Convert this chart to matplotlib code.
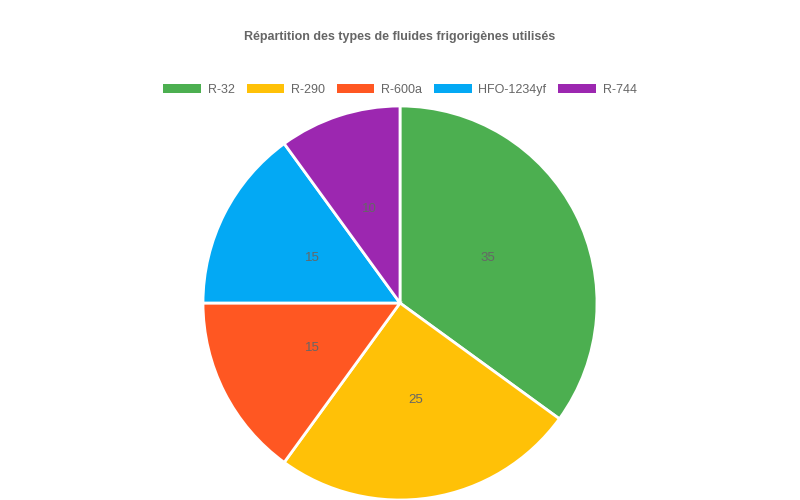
import matplotlib
matplotlib.use("Agg")
import matplotlib.pyplot as plt
from matplotlib.patches import Patch

plt.rcParams['font.family'] = ['Liberation Sans', 'DejaVu Sans']

# data
labels = ['R-32', 'R-290', 'R-600a', 'HFO-1234yf', 'R-744']
values = [35, 25, 15, 15, 10]
colors = ['#4CAF50', '#FFC107', '#FF5722', '#03A9F4', '#9C27B0']
title = 'Répartition des types de fluides frigorigènes utilisés'

fig = plt.figure(figsize=(8, 5), dpi=100)

# pie centre ~ (400, 303) px, radius ~197 px
cx, cy, r = 400, 303, 197
ax = fig.add_axes([(cx - r) / 800, (500 - cy - r) / 500, 2 * r / 800, 2 * r / 500])
wedges, texts = ax.pie(values, colors=colors, startangle=90, counterclock=False,
                       labels=[str(v) for v in values], labeldistance=0.5,
                       wedgeprops=dict(edgecolor='white', linewidth=2),
                       textprops=dict(color='#666666', fontsize=9.5))
for t in texts:
    t.set_horizontalalignment('center')
    t.set_verticalalignment('center')
ax.set_xlim(-1.0, 1.0)
ax.set_ylim(-1.0, 1.0)
ax.set_aspect('equal')
ax.axis('off')

fig.text(0.5, 1 - 37 / 500, title, ha='center', va='center',
         fontsize=9, fontweight='bold', color='#666666')

handles = [Patch(facecolor=c, edgecolor='none') for c in colors]
fig.legend(handles, labels, loc='center', bbox_to_anchor=(0.5, 1 - 90 / 500),
           ncol=5, frameon=False, fontsize=9, labelcolor='#666666',
           handlelength=3.0, handleheight=0.8, handletextpad=0.55, columnspacing=0.95)

fig.savefig('out.png', dpi=100)
